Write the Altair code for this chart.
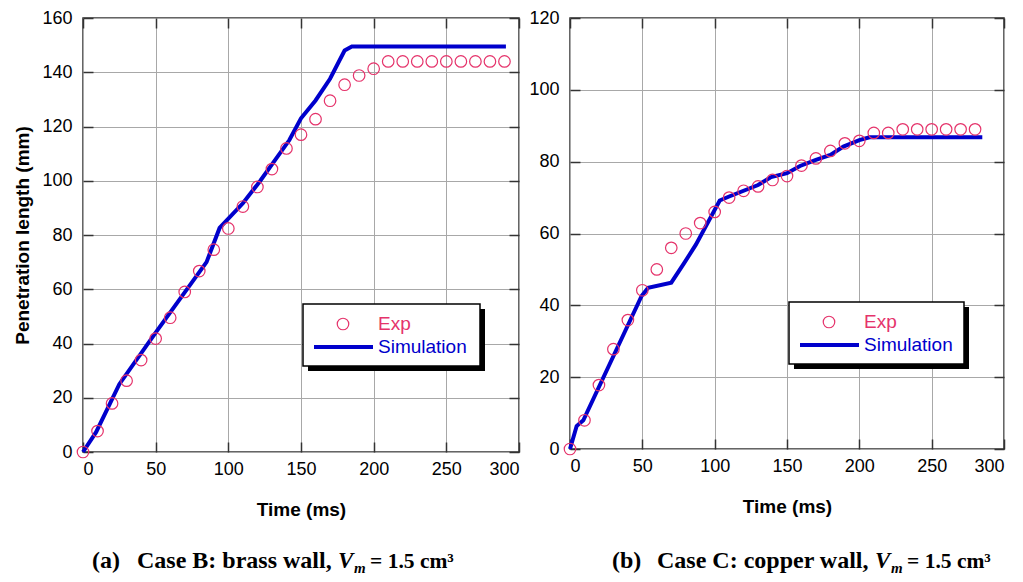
import altair as alt
import pandas as pd

# ---------------- data ----------------
# Case B (brass wall)
exp_b_t = [0, 10, 20, 30, 40, 50, 60, 70, 80, 90, 100, 110, 120, 130, 140,
           150, 160, 170, 180, 190, 200, 210, 220, 230, 240, 250, 260, 270, 280, 290]
exp_b_v = [0, 7.7, 17.9, 26.3, 33.9, 41.8, 49.5, 59, 66.7, 74.6, 82.4, 90.5, 97.7, 104.3, 111.9,
           117, 122.7, 129.5, 135.4, 138.8, 141.3, 144, 144, 144, 144, 144, 144, 144, 144, 144]
sim_b_t = [0, 9, 25, 50, 85, 94, 110, 122, 142, 150, 160, 170, 180, 185, 291]
sim_b_v = [0, 7.3, 25, 44, 70, 82.6, 91.7, 100, 115, 123, 129.6, 137.6, 148, 149.5, 149.5]

# Case C (copper wall)
exp_c_t = [0, 10, 20, 30, 40, 50, 60, 70, 80, 90, 100, 110, 120, 130, 140,
           150, 160, 170, 180, 190, 200, 210, 220, 230, 240, 250, 260, 270, 280]
exp_c_v = [0, 8, 17.8, 27.8, 35.9, 44.2, 50, 56, 60, 62.9, 66, 70, 71.9, 73.1, 74.9,
           76, 78.9, 80.9, 83, 85.1, 85.8, 88, 88, 89, 89, 89, 89, 89, 89]
sim_c_t = [0, 4.6, 9.2, 49.5, 54, 70, 79, 87, 103.5, 110, 130, 139, 150, 159, 170, 180, 189, 200, 207, 285]
sim_c_v = [0, 6.4, 8, 42.6, 44.9, 46.3, 51.8, 56.9, 69.2, 70.3, 73.5, 75.7, 76.8, 78.8, 80.5, 81.9, 84.2, 86, 86.8, 86.8]

x_ticks = [0, 50, 100, 150, 200, 250, 300]
y_ticks_b = [0, 20, 40, 60, 80, 100, 120, 140, 160]
y_ticks_c = [0, 20, 40, 60, 80, 100, 120]

legend_labels = ["Exp", "Simulation"]
x_title = "Time (ms)"
y_title = "Penetration length (mm)"
cap_a = ["(a)", "Case B: brass wall,"]
cap_b = ["(b)", "Case C: copper wall,"]
cap_tail = "= 1.5 cm\u00b3"

FONT = "Liberation Sans, Arial, sans-serif"
SERIF = "Liberation Serif, Times New Roman, serif"
RED = "#e5336b"
BLUE = "#0000cc"
TICK = "#333333"
GRID = "#a8a8a8"

one = pd.DataFrame({"k": [0]})


def panel(et, ev, st, sv, ymax, yticks, w, h, ytitle, leg, cap, capA):
    exp_df = pd.DataFrame({"t": et, "v": ev})
    sim_df = pd.DataFrame({"t": st, "v": sv})
    xs = alt.Scale(domain=[0, 300], nice=False, zero=False)
    ys = alt.Scale(domain=[0, ymax], nice=False, zero=False)

    xb = alt.Axis(orient="bottom", values=x_ticks, offset=-10, domain=False, tickSize=10,
                  labelPadding=8, grid=True, title=x_title, titlePadding=22)
    yl_kw = dict(orient="left", values=yticks, offset=-10, domain=False, tickSize=10,
                 labelPadding=11, grid=True)
    if ytitle:
        yl = alt.Axis(title=y_title, titlePadding=9, **yl_kw)
    else:
        yl = alt.Axis(title=None, **yl_kw)
    xt = alt.Axis(orient="top", values=x_ticks, offset=-10, domain=False, tickSize=10,
                  labels=False, grid=False, title=None)
    yr = alt.Axis(orient="right", values=yticks, offset=-10, domain=False, tickSize=10,
                  labels=False, grid=False, title=None)

    line = alt.Chart(sim_df).mark_line(color=BLUE, strokeWidth=4).encode(
        x=alt.X("t:Q", scale=xs, axis=xt),
        y=alt.Y("v:Q", scale=ys, axis=yr),
    )
    pts = alt.Chart(exp_df).mark_point(shape="circle", filled=False, size=133,
                                       color=RED, strokeWidth=1.2, opacity=1).encode(
        x=alt.X("t:Q", scale=xs, axis=xb),
        y=alt.Y("v:Q", scale=ys, axis=yl),
    )

    lx1, ly1, lx2, ly2 = leg
    shadow = alt.Chart(one).mark_rect(color="black").encode(
        x=alt.value(lx1 + 5), x2=alt.value(lx2 + 5), y=alt.value(ly1 + 5), y2=alt.value(ly2 + 5))
    box = alt.Chart(one).mark_rect(fill="white", stroke="black", strokeWidth=1.5).encode(
        x=alt.value(lx1), x2=alt.value(lx2), y=alt.value(ly1), y2=alt.value(ly2))
    lcirc = alt.Chart(one).mark_point(shape="circle", filled=False, size=133, color=RED,
                                      strokeWidth=1.2, opacity=1).encode(
        x=alt.value(lx1 + 40), y=alt.value(ly1 + 20))
    lline = alt.Chart(one).mark_rule(color=BLUE, strokeWidth=4).encode(
        x=alt.value(lx1 + 11), x2=alt.value(lx1 + 70), y=alt.value(ly1 + 43))
    ltxt1 = alt.Chart(one).mark_text(text=legend_labels[0], align="left", baseline="middle",
                                     font=FONT, fontSize=19, color=RED).encode(
        x=alt.value(lx1 + 75), y=alt.value(ly1 + 20))
    ltxt2 = alt.Chart(one).mark_text(text=legend_labels[1], align="left", baseline="middle",
                                     font=FONT, fontSize=19, color=BLUE).encode(
        x=alt.value(lx1 + 75), y=alt.value(ly1 + 43))

    cy = 550
    c1 = alt.Chart(one).mark_text(text=cap[0], align="left", baseline="alphabetic", font=SERIF,
                                  fontSize=24, fontWeight="bold", color="black").encode(
        x=alt.value(capA[0]), y=alt.value(cy))
    c2 = alt.Chart(one).mark_text(text=cap[1], align="left", baseline="alphabetic", font=SERIF,
                                  fontSize=24, fontWeight="bold", color="black").encode(
        x=alt.value(capA[1]), y=alt.value(cy))
    c3 = alt.Chart(one).mark_text(text="V", align="left", baseline="alphabetic", font=SERIF,
                                  fontSize=23, fontWeight="bold", fontStyle="italic",
                                  color="black").encode(x=alt.value(capA[2]), y=alt.value(cy))
    c4 = alt.Chart(one).mark_text(text="m", align="left", baseline="alphabetic", font=SERIF,
                                  fontSize=15, fontWeight="bold", fontStyle="italic",
                                  color="black").encode(x=alt.value(capA[2] + 16), y=alt.value(cy + 5))
    c5 = alt.Chart(one).mark_text(text=cap_tail, align="left", baseline="alphabetic", font=SERIF,
                                  fontSize=21.5, fontWeight="bold", color="black").encode(
        x=alt.value(capA[2] + 32), y=alt.value(cy))

    return alt.layer(line, pts, shadow, box, lcirc, lline, ltxt1, ltxt2,
                     c1, c2, c3, c4, c5).resolve_axis(
        x="independent", y="independent").properties(width=w, height=h)


left = panel(exp_b_t, exp_b_v, sim_b_t, sim_b_v, 160, y_ticks_b, 436, 434, True,
             (220, 286, 397, 348), cap_a, (9, 54, 255))
right = panel(exp_c_t, exp_c_v, sim_c_t, sim_c_v, 120, y_ticks_c, 434, 431, False,
              (219, 284, 394, 346), cap_b, (42, 87, 305))

chart = alt.hconcat(left, right, spacing=51, bounds="flush").properties(
    padding={"left": 5, "top": 0, "right": 0, "bottom": 0}
).configure_view(
    stroke="#333333", strokeWidth=1.5
).configure_axis(
    labelFont=FONT, labelFontSize=18, labelColor="black",
    titleFont=FONT, titleFontSize=19, titleFontWeight="bold", titleColor="black",
    tickColor=TICK, tickWidth=1.5, gridColor=GRID, gridWidth=1, gridOpacity=1,
)

chart.save("out.html", embed_options={"renderer": "svg", "actions": False})
